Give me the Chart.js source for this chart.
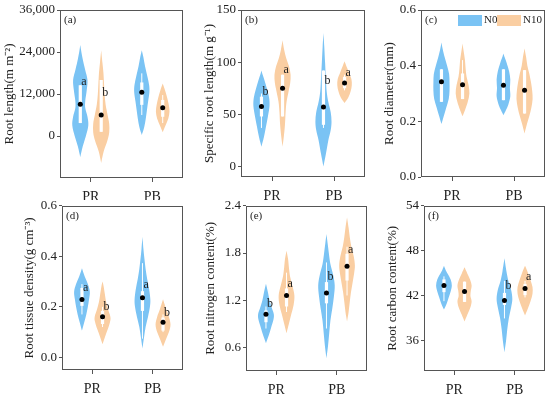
<!DOCTYPE html>
<html><head><meta charset="utf-8">
<script src="https://cdn.jsdelivr.net/npm/chart.js@4/dist/chart.umd.min.js"></script>
<style>
html,body{margin:0;padding:0;background:#fff;}
#wrap{position:relative;width:550px;height:396px;overflow:hidden;background:#fff;}
canvas{position:absolute;}
</style></head><body><div id="wrap"></div>
<script>
// ---------------- DATA ----------------
const categories = ['PR', 'PB'];
const groups = ['N0', 'N10'];
// Violin order in every panel: N0-PR, N10-PR, N0-PB, N10-PB
// shape: [value, relative half-width]; box: [whiskerLow, q1, q3, whiskerHigh]

// (a) Root length
const lengthShape = [
  [[-6000,0],[-3000,0.3],[0,0.7],[3000,1.0],[5500,0.9],[8000,0.62],[10000,0.62],[13000,0.8],[16000,0.9],[19000,0.6],[22000,0.3],[24500,0.1],[26000,0]],
  [[-7700,0],[-4500,0.3],[-1500,0.75],[1000,1.0],[3500,1.0],[6000,0.8],[9000,0.55],[12000,0.42],[15000,0.35],[18000,0.28],[21000,0.15],[24500,0]],
  [[300,0],[2500,0.3],[5000,0.5],[7500,0.65],[10000,0.8],[12500,0.95],[14500,0.92],[17000,0.7],[20000,0.4],[22500,0.2],[24500,0]],
  [[1100,0],[3000,0.35],[5000,0.7],[7000,0.85],[9000,0.75],[11000,0.55],[13000,0.3],[15000,0]]
];
const lengthBox = [[3700,3700,14500,14500],[1200,1200,16000,16000],[6000,8900,15300,17900],[3700,5500,10300,11700]];
const lengthMean = [9050, 6000, 12480, 8100];
const lengthLetters = ['a', 'b', '', ''];
const lengthLetterY = [15500, 12200, 0, 0];
const lengthTicks = [0, 12000, 24000, 36000];

// (b) Specific root length
const srlShape = [
  [[19,0],[28,0.3],[38,0.55],[48,0.8],[58,1.0],[66,0.95],[74,0.7],[82,0.4],[88,0.15],[92,0]],
  [[19,0],[28,0.15],[40,0.3],[52,0.38],[62,0.5],[72,0.75],[80,0.95],[88,1.0],[96,0.8],[104,0.45],[112,0.2],[121,0]],
  [[0,0],[12,0.3],[25,0.6],[35,0.9],[43,1.0],[52,0.9],[62,0.6],[72,0.4],[85,0.3],[100,0.2],[115,0.1],[128,0]],
  [[61,0],[66,0.45],[72,0.75],[78,0.9],[84,0.85],[90,0.55],[95,0.3],[101,0]]
];
const srlBox = [[37,48,67,70],[48,48,88,88],[37,40,92,92],[73,75,86,88]];
const srlMean = [57.5, 75, 57, 80];
const srlLetters = ['b', 'a', 'b', 'a'];
const srlLetterY = [72, 92.7, 82, 90];
const srlTicks = [0, 50, 100, 150];

// (c) Root diameter
const diamShape = [
  [[0.19,0],[0.22,0.3],[0.25,0.6],[0.28,0.9],[0.31,1.0],[0.34,1.0],[0.37,0.95],[0.40,0.7],[0.43,0.4],[0.46,0.15],[0.483,0]],
  [[0.218,0],[0.24,0.3],[0.27,0.65],[0.30,0.85],[0.33,0.75],[0.36,0.5],[0.39,0.38],[0.42,0.3],[0.45,0.15],[0.48,0]],
  [[0.222,0],[0.24,0.3],[0.26,0.6],[0.29,0.85],[0.32,0.8],[0.35,0.85],[0.38,0.7],[0.41,0.4],[0.43,0.15],[0.444,0]],
  [[0.156,0],[0.19,0.3],[0.22,0.6],[0.25,0.85],[0.28,1.0],[0.31,0.95],[0.34,0.8],[0.37,0.6],[0.40,0.35],[0.43,0.2],[0.462,0]]
];
const diamBox = [[0.27,0.27,0.387,0.387],[0.28,0.28,0.372,0.42],[0.276,0.276,0.387,0.387],[0.228,0.228,0.384,0.384]];
const diamMean = [0.342, 0.331, 0.33, 0.312];
const diamLetters = ['', '', '', ''];
const diamLetterY = [0, 0, 0, 0];
const diamTicks = [0, 0.2, 0.4, 0.6];

// (d) Root tissue density
const rtdShape = [
  [[0.106,0],[0.14,0.3],[0.17,0.55],[0.20,0.75],[0.23,0.9],[0.26,1.0],[0.29,0.75],[0.32,0.35],[0.353,0]],
  [[0.052,0],[0.08,0.3],[0.11,0.65],[0.14,0.95],[0.16,1.0],[0.19,0.7],[0.22,0.45],[0.25,0.3],[0.28,0.15],[0.30,0]],
  [[0.035,0],[0.08,0.2],[0.12,0.4],[0.16,0.7],[0.20,0.95],[0.23,1.0],[0.27,0.85],[0.31,0.6],[0.35,0.4],[0.39,0.25],[0.43,0.12],[0.477,0]],
  [[0.042,0],[0.07,0.35],[0.10,0.75],[0.13,0.95],[0.16,0.75],[0.19,0.4],[0.21,0.2],[0.23,0]]
];
const rtdBox = [[0.17,0.204,0.275,0.29],[0.12,0.132,0.184,0.2],[0.074,0.184,0.262,0.373],[0.1,0.106,0.158,0.17]];
const rtdMean = [0.229, 0.161, 0.236, 0.139];
const rtdLetters = ['a', 'b', 'a', 'b'];
const rtdLetterY = [0.275, 0.20, 0.288, 0.178];
const rtdTicks = [0, 0.2, 0.4, 0.6];

// (e) Root nitrogen content
const nShape = [
  [[0.653,0],[0.75,0.35],[0.85,0.65],[0.95,0.95],[1.02,1.0],[1.10,0.75],[1.20,0.45],[1.30,0.25],[1.41,0]],
  [[0.78,0],[0.90,0.3],[1.02,0.6],[1.14,0.9],[1.26,1.0],[1.38,0.75],[1.50,0.45],[1.62,0.3],[1.72,0.2],[1.83,0]],
  [[0.46,0],[0.62,0.2],[0.78,0.35],[0.94,0.5],[1.10,0.75],[1.25,0.95],[1.39,1.05],[1.52,0.85],[1.66,0.5],[1.80,0.3],[1.92,0.15],[2.04,0]],
  [[0.93,0],[1.05,0.2],[1.18,0.35],[1.30,0.5],[1.42,0.7],[1.54,0.9],[1.64,1.0],[1.76,0.85],[1.88,0.55],[2.00,0.35],[2.12,0.2],[2.25,0]]
];
const nBox = [[0.84,0.92,1.07,1.12],[1.05,1.12,1.35,1.55],[0.84,1.16,1.43,1.68],[1.26,1.45,1.79,1.88]];
const nMean = [1.02, 1.26, 1.29, 1.63];
const nLetters = ['b', 'a', 'b', 'a'];
const nLetterY = [1.16, 1.41, 1.50, 1.84];
const nTicks = [0.6, 1.2, 1.8, 2.4];

// (f) Root carbon content
const cShape = [
  [[40.2,0],[41.0,0.35],[41.8,0.6],[42.6,0.85],[43.4,1.0],[44.2,0.85],[45.0,0.45],[45.5,0.2],[46.0,0]],
  [[38.6,0],[39.5,0.35],[40.5,0.75],[41.3,0.9],[42.0,0.75],[42.7,0.8],[43.4,0.9],[44.2,0.7],[45.0,0.35],[45.8,0]],
  [[34.5,0],[36.0,0.2],[37.5,0.35],[39.0,0.55],[40.5,0.85],[41.6,1.0],[42.8,0.85],[44.0,0.5],[45.3,0.25],[47.0,0]],
  [[39.4,0],[40.3,0.35],[41.3,0.7],[42.3,0.95],[43.2,0.95],[44.1,0.7],[45.0,0.4],[46.0,0]]
];
const cBox = [[41.3,42.5,44.2,44.6],[41.2,41.2,43.9,43.9],[39.0,40.8,42.4,44.0],[41.8,42.1,43.6,44.0]];
const cMean = [43.4, 42.6, 41.4, 43.0];
const cLetters = ['', '', 'b', 'a'];
const cLetterY = [0, 0, 43.3, 44.5];
const cTicks = [36, 42, 48, 54];

// ---------------- STYLE / LAYOUT ----------------
const COLORS = ['rgb(122,195,244)', 'rgb(250,206,162)'];
const FONT = '"Liberation Serif", "Times New Roman", serif';
const FRAME = '#555';
const TXT = '#222';
const GROUP_OFFSET = 0.17, HALF_W = 0.13;

const panels = [
  {tag:'(a)', title:'Root length(m m\u207B\u00B2)', shape:lengthShape, box:lengthBox, mean:lengthMean, letters:lengthLetters, letterY:lengthLetterY, ticks:lengthTicks, min:-12000, max:36000, fmt:v=>v.toLocaleString('en-US'),
   cv:{l:2,t:0,r:187,b:200}, area:{l:60,t:10,r:183,b:178}},
  {tag:'(b)', title:'Specific root length(m g\u207B\u00B9)', shape:srlShape, box:srlBox, mean:srlMean, letters:srlLetters, letterY:srlLetterY, ticks:srlTicks, min:-10, max:150, fmt:v=>String(v),
   cv:{l:202,t:0,r:368,b:200}, area:{l:241,t:10,r:365,b:177}},
  {tag:'(c)', title:'Root diameter(mm)', shape:diamShape, box:diamBox, mean:diamMean, letters:diamLetters, letterY:diamLetterY, ticks:diamTicks, min:0, max:0.6, fmt:v=>v.toFixed(1), legend:true,
   cv:{l:382,t:0,r:549,b:200}, area:{l:421,t:10,r:545,b:177}},
  {tag:'(d)', title:'Root tissue density(g cm\u207B\u00B3)', shape:rtdShape, box:rtdBox, mean:rtdMean, letters:rtdLetters, letterY:rtdLetterY, ticks:rtdTicks, min:-0.05, max:0.6, fmt:v=>v.toFixed(1),
   cv:{l:22,t:196,r:187,b:396}, area:{l:62,t:203,r:183,b:370}},
  {tag:'(e)', title:'Root nitrogen content(%)', shape:nShape, box:nBox, mean:nMean, letters:nLetters, letterY:nLetterY, ticks:nTicks, min:0.3, max:2.4, fmt:v=>v.toFixed(1),
   cv:{l:203,t:196,r:370,b:396}, area:{l:246,t:203,r:367,b:371}},
  {tag:'(f)', title:'Root carbon content(%)', shape:cShape, box:cBox, mean:cMean, letters:cLetters, letterY:cLetterY, ticks:cTicks, min:32, max:54, fmt:v=>String(v),
   cv:{l:385,t:196,r:549,b:396}, area:{l:424,t:203,r:545,b:371}}
];

function xOf(i){ return Math.floor(i/2) + 1 + (i % 2 === 0 ? -GROUP_OFFSET : GROUP_OFFSET); }

function smoothPath(ctx, pts, move){
  if (move) ctx.moveTo(pts[0][0], pts[0][1]);
  for (let i = 0; i < pts.length - 1; i++){
    const p0 = pts[Math.max(i-1,0)], p1 = pts[i], p2 = pts[i+1], p3 = pts[Math.min(i+2, pts.length-1)];
    const c1x = p1[0] + (p2[0]-p0[0])/6, c1y = p1[1] + (p2[1]-p0[1])/6;
    const c2x = p2[0] - (p3[0]-p1[0])/6, c2y = p2[1] - (p3[1]-p1[1])/6;
    ctx.bezierCurveTo(c1x, c1y, c2x, c2y, p2[0], p2[1]);
  }
}

function makePlugin(p){
  return {
    id: 'violin',
    beforeDatasetsDraw(chart){
      const ctx = chart.ctx, xs = chart.scales.x, ys = chart.scales.y, a = chart.chartArea;
      ctx.save();
      ctx.beginPath(); ctx.rect(a.left, a.top, a.right-a.left, a.bottom-a.top); ctx.clip();
      p.shape.forEach((prof, i) => {
        const cx = xOf(i);
        const right = prof.map(([v,w]) => [xs.getPixelForValue(cx + w*HALF_W), ys.getPixelForValue(v)]);
        const left = prof.slice().reverse().map(([v,w]) => [xs.getPixelForValue(cx - w*HALF_W), ys.getPixelForValue(v)]);
        ctx.beginPath();
        smoothPath(ctx, right, true);
        smoothPath(ctx, left, false);
        ctx.closePath();
        ctx.fillStyle = COLORS[i % 2];
        ctx.fill();
        const b = p.box[i];
        const px = xs.getPixelForValue(cx);
        ctx.strokeStyle = '#fff'; ctx.lineWidth = 1;
        ctx.beginPath();
        ctx.moveTo(px, ys.getPixelForValue(b[0])); ctx.lineTo(px, ys.getPixelForValue(b[3]));
        ctx.stroke();
        ctx.fillStyle = '#fff';
        const y1 = ys.getPixelForValue(b[2]), y2 = ys.getPixelForValue(b[1]);
        ctx.fillRect(px - 1.6, y1, 3.2, y2 - y1);
      });
      ctx.restore();
    },
    afterDatasetsDraw(chart){
      const ctx = chart.ctx, xs = chart.scales.x, ys = chart.scales.y, a = chart.chartArea;
      ctx.save();
      ctx.fillStyle = TXT;
      ctx.font = '12px ' + FONT;
      ctx.textBaseline = 'middle'; ctx.textAlign = 'left';
      p.letters.forEach((L, i) => {
        if (!L) return;
        ctx.fillText(L, xs.getPixelForValue(xOf(i)) + 1, ys.getPixelForValue(p.letterY[i]));
      });
      ctx.font = '11px ' + FONT;
      ctx.fillText(p.tag, a.left + 4, a.top + 10);
      ctx.strokeStyle = FRAME; ctx.lineWidth = 1;
      ctx.strokeRect(Math.round(a.left) + 0.5, Math.round(a.top) + 0.5, Math.round(a.right - a.left) - 1, Math.round(a.bottom - a.top) - 1);
      if (p.legend){
        const bx = [a.right - 87, a.right - 48];
        groups.forEach((g, k) => {
          ctx.fillStyle = COLORS[k];
          ctx.fillRect(bx[k], a.top + 5, 24, 11);
          ctx.fillStyle = TXT;
          ctx.font = '11px ' + FONT;
          ctx.fillText(g, bx[k] + 26, a.top + 10.5);
        });
      }
      ctx.restore();
    }
  };
}

const wrap = document.getElementById('wrap');
panels.forEach(p => {
  const c = document.createElement('canvas');
  const W = p.cv.r - p.cv.l, H = p.cv.b - p.cv.t;
  c.width = W; c.height = H;
  c.style.left = p.cv.l + 'px'; c.style.top = p.cv.t + 'px';
  c.style.width = W + 'px'; c.style.height = H + 'px';
  wrap.appendChild(c);
  new Chart(c, {
    type: 'scatter',
    data: { datasets: [{
      data: p.mean.map((m, i) => ({x: xOf(i), y: m})),
      pointRadius: 2.5, pointBackgroundColor: '#000', pointBorderWidth: 0, pointHoverRadius: 2.5
    }]},
    options: {
      responsive: false, animation: false, devicePixelRatio: 1,
      events: [],
      layout: { padding: { left: 0, top: p.area.t - p.cv.t, right: p.cv.r - p.area.r, bottom: 0 } },
      plugins: { legend: {display: false}, tooltip: {enabled: false} },
      scales: {
        x: {
          type: 'linear', min: 0.5, max: 2.5,
          afterBuildTicks: s => { s.ticks = [1, 2].map(v => ({value: v})); },
          afterFit: s => { s.height = p.cv.b - p.area.b; },
          ticks: { callback: v => categories[v - 1], font: {family: FONT, size: 14}, color: TXT, padding: 7, maxRotation: 0, autoSkip: false },
          grid: { drawOnChartArea: false, drawTicks: true, tickLength: 4, color: FRAME },
          border: { display: false }
        },
        y: {
          min: p.min, max: p.max,
          afterBuildTicks: s => { s.ticks = p.ticks.map(v => ({value: v})); },
          afterFit: s => { s.width = p.area.l - p.cv.l; },
          ticks: { callback: v => p.fmt(v), font: {family: FONT, size: 13}, color: TXT, padding: 2, autoSkip: false },
          grid: { drawOnChartArea: false, drawTicks: true, tickLength: 3, color: FRAME },
          border: { display: false },
          title: { display: true, text: p.title, font: {family: FONT, size: 13}, color: TXT, padding: {top: 0, bottom: 2} }
        }
      }
    },
    plugins: [makePlugin(p)]
  });
});
</script></body></html>
